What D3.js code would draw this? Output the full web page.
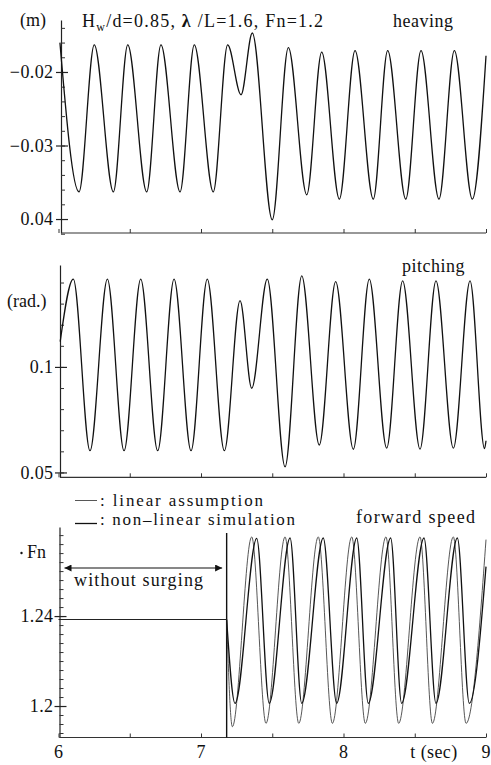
<!DOCTYPE html>
<html>
<head>
<meta charset="utf-8">
<script src="https://cdn.jsdelivr.net/npm/d3@7"></script>
<style>
  html, body { margin: 0; padding: 0; background: #fff; }
  svg { display: block; }
  text { font-family: "Liberation Serif", "Times New Roman", serif; fill: #111; }
</style>
</head>
<body>
<svg id="chart" width="491" height="765"></svg>
<script>
// ---- time axis ----
const timeTicks = [6, 6.5, 7, 7.5, 8, 8.5, 9];
const timeTickLabels = ["6", "", "7", "", "8", "", "9"];

// ---- heaving (m) ----
const heaveTime = [6.010, 6.144, 6.251, 6.385, 6.486, 6.619, 6.719, 6.853, 6.953, 7.086, 7.187,
  7.281, 7.360, 7.500, 7.613, 7.742, 7.847, 7.971, 8.081, 8.209, 8.310, 8.437, 8.544, 8.670,
  8.778, 8.904, 9.000];
const heaveValue = [-0.0160, -0.0363, -0.0163, -0.0363, -0.0163, -0.0363, -0.0163, -0.0363, -0.0163, -0.0363, -0.0163,
  -0.0231, -0.0147, -0.0401, -0.0167, -0.0367, -0.0173, -0.0373, -0.0171, -0.0373, -0.0171, -0.0373, -0.0171, -0.0373,
  -0.0171, -0.0373, -0.0178];
const heaveTicks = [-0.02, -0.03, -0.04];
const heaveTickLabels = ["\u22120.02", "\u22120.03", "0.04"];

// ---- pitching (rad.) ----
const pitchTime = [6.012, 6.104, 6.221, 6.343, 6.460, 6.577, 6.696, 6.811, 6.930, 7.044, 7.164,
  7.274, 7.356, 7.465, 7.590, 7.707, 7.830, 7.945, 8.069, 8.181, 8.303, 8.415, 8.537, 8.649,
  8.771, 8.888, 8.990, 9.000];
const pitchValue = [0.1120, 0.1416, 0.0603, 0.1416, 0.0603, 0.1416, 0.0603, 0.1416, 0.0603, 0.1416, 0.0603,
  0.1314, 0.0899, 0.1416, 0.0527, 0.1431, 0.0630, 0.1404, 0.0610, 0.1416, 0.0615, 0.1408, 0.0611, 0.1408,
  0.0615, 0.1408, 0.0613, 0.0650];
const pitchTicks = [0.1, 0.05];
const pitchTickLabels = ["0.1", "0.05"];

// ---- forward speed (Fn) ----
const surgeStart = 7.18;
const speedFixedTime = [6.0, 7.18];
const speedFixedValue = [1.2385, 1.2385];
const speedLinearTime = [7.180, 7.220, 7.356, 7.456, 7.590, 7.686, 7.823, 7.922, 8.058, 8.153,
  8.298, 8.387, 8.537, 8.624, 8.771, 8.860, 9.000];
const speedLinearValue = [1.2385, 1.1908, 1.2752, 1.1923, 1.2752, 1.1923, 1.2752, 1.1923, 1.2752, 1.1923,
  1.2752, 1.1923, 1.2752, 1.1923, 1.2752, 1.1923, 1.2740];
const speedNonlinearTime = [7.180, 7.239, 7.391, 7.479, 7.625, 7.707, 7.858, 7.952, 8.093, 8.174,
  8.331, 8.408, 8.565, 8.649, 8.799, 8.883, 9.000];
const speedNonlinearValue = [1.2385, 1.2012, 1.2745, 1.2012, 1.2747, 1.2012, 1.2747, 1.2012, 1.2747, 1.2012,
  1.2747, 1.2012, 1.2747, 1.2012, 1.2747, 1.2012, 1.2620];
const speedTicks = [1.24, 1.2];
const speedTickLabels = ["1.24", "1.2"];

// ---- layout ----
const svg = d3.select("#chart");
const x = d3.scaleLinear().domain([6, 9]).range([58.5, 486]);
const FONT = 18;

const panels = [
  { key: "heave", top: 20, bottom: 233, axisX: 61, domain: [-0.0419, -0.01293],
    minor: d3.range(-0.042, -0.0129, 0.002), major: heaveTicks, labels: heaveTickLabels },
  { key: "pitch", top: 265, bottom: 477.3, axisX: 60, domain: [0.0477, 0.1483],
    minor: d3.range(0.05, 0.1481, 0.01), major: pitchTicks, labels: pitchTickLabels },
  { key: "speed", top: 527, bottom: 737.5, axisX: 59.5, domain: [1.186, 1.2796],
    minor: d3.range(1.188, 1.2797, 0.004), major: speedTicks, labels: speedTickLabels }
];

const zip = (ts, vs) => ts.map((t, i) => ({ t, v: vs[i] }));

panels.forEach(p => {
  p.y = d3.scaleLinear().domain(p.domain).range([p.bottom, p.top]);
  const g = svg.append("g").attr("class", "panel-" + p.key);

  // left axis with inward minor ticks
  const left = g.append("g").attr("transform", `translate(${p.axisX},0)`);
  left.call(d3.axisLeft(p.y).tickValues(p.minor).tickSize(-4).tickSizeOuter(0).tickFormat(""));
  left.select(".domain").attr("stroke", "#222").attr("stroke-width", 1.2);
  left.selectAll(".tick line").attr("stroke", "#333").attr("stroke-width", 1);

  // labelled ticks cross the axis
  const major = g.append("g").attr("transform", `translate(${p.axisX},0)`);
  major.call(d3.axisLeft(p.y).tickValues(p.major).tickSize(5).tickFormat(""));
  major.select(".domain").remove();
  major.selectAll(".tick line").attr("x1", 7).attr("stroke", "#222").attr("stroke-width", 1.2);

  g.selectAll("text.ylab").data(p.major).join("text")
    .attr("class", "ylab")
    .attr("x", 53.5)
    .attr("y", d => p.y(d))
    .attr("dy", "0.35em")
    .attr("text-anchor", "end")
    .attr("font-size", FONT)
    .attr("letter-spacing", 0.4)
    .text((d, i) => p.labels[i]);

  // bottom time axis
  g.append("line")
    .attr("x1", p.axisX).attr("x2", x(9))
    .attr("y1", p.bottom).attr("y2", p.bottom)
    .attr("stroke", "#333").attr("stroke-width", 1.2);
  const bottom = g.append("g").attr("transform", `translate(0,${p.bottom})`);
  bottom.call(d3.axisBottom(x).tickValues(timeTicks).tickSize(-4).tickSizeOuter(0).tickFormat(""));
  bottom.select(".domain").remove();
  bottom.selectAll(".tick line").attr("stroke", "#333").attr("stroke-width", 1);
});

const [heaveP, pitchP, speedP] = panels;

const lineOf = p => d3.line().x(d => x(d.t)).y(d => p.y(d.v)).curve(d3.curveMonotoneX);

// heaving trace
svg.append("path").datum(zip(heaveTime, heaveValue))
  .attr("d", lineOf(heaveP)).attr("fill", "none")
  .attr("stroke", "#111").attr("stroke-width", 1.3);

// pitching trace
svg.append("path").datum(zip(pitchTime, pitchValue))
  .attr("d", lineOf(pitchP)).attr("fill", "none")
  .attr("stroke", "#111").attr("stroke-width", 1.3);

// forward speed: fixed speed before surging is released
svg.append("path").datum(zip(speedFixedTime, speedFixedValue))
  .attr("d", d3.line().x(d => x(d.t)).y(d => speedP.y(d.v))).attr("fill", "none")
  .attr("stroke", "#222").attr("stroke-width", 1.1);
svg.append("line")
  .attr("x1", x(surgeStart)).attr("x2", x(surgeStart))
  .attr("y1", speedP.top + 6).attr("y2", speedP.bottom)
  .attr("stroke", "#111").attr("stroke-width", 1.4);

svg.append("path").datum(zip(speedLinearTime, speedLinearValue))
  .attr("d", lineOf(speedP)).attr("fill", "none")
  .attr("stroke", "#444").attr("stroke-width", 0.9);
svg.append("path").datum(zip(speedNonlinearTime, speedNonlinearValue))
  .attr("d", lineOf(speedP)).attr("fill", "none")
  .attr("stroke", "#111").attr("stroke-width", 1.3);

// "without surging" span arrow
const defs = svg.append("defs");
["start", "end"].forEach(k => {
  defs.append("marker")
    .attr("id", "arrow-" + k)
    .attr("viewBox", "0 0 10 10")
    .attr("refX", k === "end" ? 10 : 0).attr("refY", 5)
    .attr("markerWidth", 9).attr("markerHeight", 7)
    .attr("markerUnits", "userSpaceOnUse")
    .attr("orient", "auto")
    .append("path")
    .attr("d", k === "end" ? "M0,0 L10,5 L0,10 Z" : "M10,0 L0,5 L10,10 Z")
    .attr("fill", "#111");
});
svg.append("line")
  .attr("x1", x(6) + 6).attr("x2", x(surgeStart) - 4.5)
  .attr("y1", 568).attr("y2", 568)
  .attr("stroke", "#111").attr("stroke-width", 1.1)
  .attr("marker-start", "url(#arrow-start)")
  .attr("marker-end", "url(#arrow-end)");
svg.append("text").attr("x", 74).attr("y", 586)
  .attr("font-size", FONT).attr("textLength", 129).attr("lengthAdjust", "spacing")
  .text("without surging");

// time labels
svg.selectAll("text.xlab").data(timeTicks.filter((d, i) => timeTickLabels[i]))
  .join("text").attr("class", "xlab")
  .attr("x", d => x(d)).attr("y", 758)
  .attr("text-anchor", "middle").attr("font-size", FONT)
  .text(d => timeTickLabels[timeTicks.indexOf(d)]);
svg.append("text").attr("x", 434).attr("y", 758).attr("text-anchor", "middle")
  .attr("font-size", FONT).attr("letter-spacing", 0.4).text("t (sec)");

// units and panel names
svg.append("text").attr("x", 20).attr("y", 26).attr("font-size", FONT).text("(m)");
svg.append("text").attr("x", 7).attr("y", 307).attr("font-size", FONT).text("(rad.)");
svg.append("circle").attr("cx", 21.5).attr("cy", 553).attr("r", 1.2).attr("fill", "#111");
svg.append("text").attr("x", 27).attr("y", 558).attr("font-size", FONT).text("Fn");
svg.append("text").attr("x", 393).attr("y", 27).attr("font-size", FONT).attr("letter-spacing", 0.5).text("heaving");
svg.append("text").attr("x", 402).attr("y", 272).attr("font-size", FONT).attr("letter-spacing", 0.5).text("pitching");
svg.append("text").attr("x", 356).attr("y", 523).attr("font-size", FONT)
  .attr("textLength", 119).attr("lengthAdjust", "spacing").text("forward speed");

// case parameters
const title = svg.append("text").attr("x", 82).attr("y", 27).attr("font-size", FONT)
  .attr("textLength", 241).attr("lengthAdjust", "spacing");
title.append("tspan").text("H");
title.append("tspan").attr("font-size", 12).attr("dy", 4).text("w");
title.append("tspan").attr("dy", -4).text("/d=0.85, ");
title.append("tspan").attr("font-weight", "bold").text("\u03BB");
title.append("tspan").text(" /L=1.6, Fn=1.2");

// legend
const LEG = 17;
svg.append("line").attr("x1", 75).attr("x2", 97).attr("y1", 500.5).attr("y2", 500.5)
  .attr("stroke", "#444").attr("stroke-width", 0.9);
svg.append("text").attr("x", 100).attr("y", 505.5).attr("font-size", LEG)
  .attr("textLength", 163).attr("lengthAdjust", "spacing")
  .text(": linear assumption");
svg.append("line").attr("x1", 75).attr("x2", 97).attr("y1", 523.5).attr("y2", 523.5)
  .attr("stroke", "#111").attr("stroke-width", 1.3);
svg.append("text").attr("x", 100).attr("y", 525).attr("font-size", LEG)
  .attr("textLength", 195).attr("lengthAdjust", "spacing")
  .text(": non\u2013linear simulation");
</script>
</body>
</html>
